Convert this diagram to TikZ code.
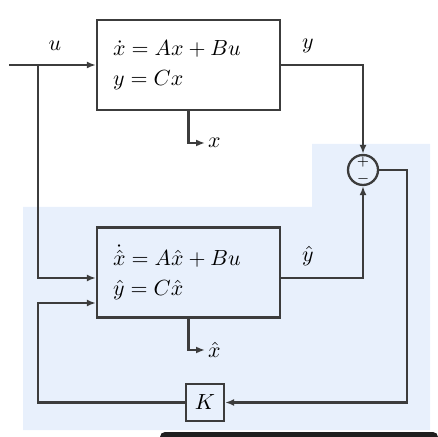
\documentclass[tikz,border=0pt]{standalone}
\usetikzlibrary{arrows.meta}
\definecolor{linegray}{HTML}{3C3C3C}
\definecolor{obsbg}{HTML}{E8F0FC}
\begin{document}
\begin{tikzpicture}[x=0.5pt,y=-0.5pt,
        line width=1.15pt, draw=linegray,
        font=\fontsize{11}{13}\selectfont,
        >={Latex[length=4.5pt,width=3.5pt]},
        block/.style = {draw, rectangle, minimum width=91.5pt, minimum height=45pt, text width=75.5pt, inner xsep=8pt, align=left},
        sum/.style = {draw, circle, minimum size=15pt, inner sep=0pt},
        gain/.style = {draw, rectangle, minimum width=19pt, minimum height=18.5pt, inner sep=0pt}]
    \useasboundingbox (0,0) rectangle (438,437);
    % shaded observer area
    \fill[obsbg] (23,207) -- (312,207) -- (312,144) -- (430,144) -- (430,430) -- (23,430) -- cycle;
    \fill[black!88] (160,437) [rounded corners=2.5pt]-- (160,432) -- (438,432) [sharp corners]-- (438,437) -- cycle;

    \node[block, fill=white] (plant) at (188.5,65) {$\dot{x} = Ax + Bu$\\[2pt] $y = Cx$};
    \node[block] (obs) at (188.5,272.5) {$\dot{\hat{x}} = A\hat{x} + Bu$\\[2pt] $\hat{y} = C\hat{x}$};
    \node[sum] (s) at (363,170) {};
    \node[font=\scriptsize] (plus) at (363,162) {$+$};
    \node[font=\scriptsize] (minus) at (363,179) {$-$};
    \node[gain] (K) at (205,402.5) {$K$};

    \coordinate (in) at (9,65);
    \coordinate (br) at (38,65);
    \coordinate (xo) at (205,143);
    \coordinate (xho) at (205,350);
    \coordinate (rc) at (407,402.5);
    \coordinate (lc) at (38,402.5);

    \node (u) at (55,46) {$u$};
    \node (y) at (308,46) {$y$};
    \node (yh) at (308,256) {$\hat{y}$};
    \node[anchor=west, inner sep=1pt] (x) at (xo) {$x$};
    \node[anchor=west, inner sep=1pt] (xh) at (xho) {$\hat{x}$};

    \draw[->] (in) -- (plant.west);
    \draw[->] (br) |- ([yshift=-2.75pt]obs.west);
    \draw[->] (plant.east) -| (s.north);
    \draw[->] ([yshift=-2.75pt]obs.east) -| (s.south);
    \draw[->] (s.east) -| (rc) -- (K.east);
    \draw[->] (K.west) -- (lc) |- ([yshift=-15.25pt]obs.west);
    \draw[->] (plant.south) |- (xo);
    \draw[->] (obs.south) |- (xho);
\end{tikzpicture}
\end{document}
